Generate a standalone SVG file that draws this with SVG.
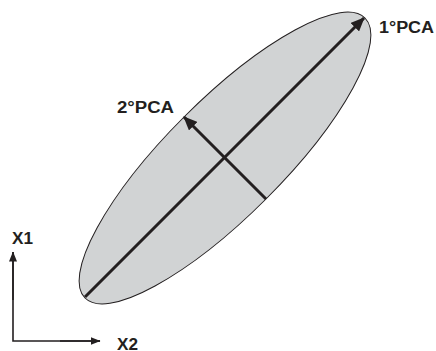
<svg xmlns="http://www.w3.org/2000/svg" width="436" height="351" viewBox="0 0 436 351">
<style>
.lbl{font-family:"Liberation Sans",Arial,sans-serif;font-weight:bold;font-size:16px;fill:#231f20}
.pc{stroke:#231f20;stroke-width:3;fill:none}
.ax{stroke:#231f20;stroke-width:1.6;fill:none}
</style>
<defs>
<marker id="big" viewBox="0 0 14 12" refX="13" refY="6" markerWidth="14" markerHeight="12" markerUnits="userSpaceOnUse" orient="auto">
<path d="M0,0 L14,6 L0,12 Z" fill="#231f20"/>
</marker>
<marker id="sm" viewBox="0 0 10 8" refX="9.5" refY="4" markerWidth="10" markerHeight="8" markerUnits="userSpaceOnUse" orient="auto">
<path d="M0,0 L10,4 L0,8 Z" fill="#231f20"/>
</marker>
</defs>
<g id="ellipse">
<ellipse cx="225" cy="158" rx="198" ry="58" transform="rotate(-45 225 158)" fill="#d1d3d4" stroke="#231f20" stroke-width="1"/>
</g>
<g id="connectors">
<line class="pc" x1="85" y1="297" x2="364" y2="18" marker-end="url(#big)"/>
<line class="pc" x1="266" y1="199" x2="184" y2="117" marker-end="url(#big)"/>
<polyline class="ax" points="13,252 13,341 100,341"/>
<line class="ax" x1="13" y1="300" x2="13" y2="252" marker-end="url(#sm)"/>
<line class="ax" x1="60" y1="341" x2="100" y2="341" marker-end="url(#sm)"/>
</g>
<g id="pca1"><text class="lbl" x="379" y="33" textLength="55" lengthAdjust="spacingAndGlyphs">1°PCA</text></g>
<g id="pca2"><text class="lbl" x="117" y="113" textLength="57" lengthAdjust="spacingAndGlyphs">2°PCA</text></g>
<g id="x1"><text class="lbl" x="12" y="244" textLength="21" lengthAdjust="spacingAndGlyphs">X1</text></g>
<g id="x2"><text class="lbl" x="117" y="350" textLength="21" lengthAdjust="spacingAndGlyphs">X2</text></g>
</svg>
